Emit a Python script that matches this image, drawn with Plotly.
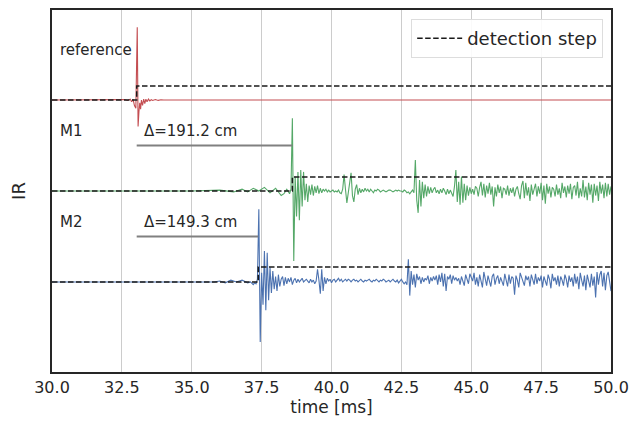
import plotly.graph_objects as go

# ---------------- data ----------------
# reference IR (red), irregular sample times [ms] and amplitudes
ref_t = [30.0, 32.4, 32.6, 32.7, 32.8, 32.85, 32.9, 32.95, 33.0, 33.05,
         33.08, 33.11, 33.14, 33.17, 33.2, 33.24, 33.28, 33.32, 33.36, 33.4,
         33.45, 33.5, 33.55, 33.6, 33.7, 33.8, 33.9, 34.0, 34.2, 34.4,
         34.6, 34.8, 35.0, 36.0, 50.0]
ref_v = [0, 0, 0.005, -0.005, 0.01, -0.02, 0.01, -0.06, -0.09, 0.80,
         -0.29, -0.13, -0.03, -0.10, 0.0, -0.06, 0.01, -0.04, 0.01, -0.02,
         0.01, -0.01, 0.005, -0.005, 0.005, -0.004, 0.003, 0.0, 0.002, -0.002,
         0.0, 0.0, 0, 0, 0]

# M1 (green): quiet part, then sampled part (start time, step)
m1_pre_t = [30.0, 33.0, 35.0, 36.0, 36.5, 36.8, 37.0, 37.2, 37.4, 37.6,
            37.8, 38.0, 38.2, 38.3, 38.4]
m1_pre_v = [0, 0.005, 0, 0.01, -0.01, 0.02, -0.01, 0.03, 0.0, 0.04,
            -0.02, 0.03, -0.05, -0.03, 0.02]
m1_start, m1_step = 38.50, 0.05
m1_v = [-0.03, 0.02, 0.80, -0.77, 0.16, -0.28, 0.21, -0.32, 0.23, -0.17,
        0.21, -0.10, 0.08, -0.12, 0.06, -0.04, 0.07, -0.05, 0.05, -0.02,
        0.06, -0.03, 0.03, -0.02, 0.02, 0.0, 0.02, -0.01, 0.01, -0.01,
        0.0, 0.01, -0.01, 0.0, -0.01, 0.01, -0.02, -0.03, 0.02, 0.18,
        0.02, -0.13, -0.02, 0.08, 0.20, -0.05, -0.12, 0.02, 0.07, -0.04,
        0.03, -0.02, 0.02, -0.01, 0.03, 0.0, 0.02, -0.01, 0.02, 0.0,
        -0.02, 0.01, 0.0, 0.02, 0.01, -0.01, 0.0, 0.01, 0.0, -0.01,
        0.0, 0.01, 0.01, 0.0, -0.01, 0.0, 0.01, 0.0, 0.01, 0.0,
        0.0, -0.01, 0.01, 0.0, -0.02, -0.01, -0.03, -0.01, 0.01, -0.02,
        0.34, -0.10, -0.24, 0.12, -0.17, 0.10, -0.08, 0.07, -0.06, 0.05,
        -0.03, 0.04, -0.02, 0.02, 0.04, -0.02, 0.01, -0.03, 0.02, -0.02,
        0.03, 0.0, -0.04, 0.02, -0.03, 0.01, -0.02, -0.06, 0.05, 0.23,
        -0.12, 0.10, -0.15, 0.16, -0.13, 0.08, -0.10, 0.06, -0.05, 0.04,
        -0.03, 0.02, -0.04, 0.05, 0.03, -0.06, 0.04, 0.10, -0.05, 0.08,
        -0.07, 0.06, -0.03, 0.09, -0.04, 0.05, -0.17, 0.04, -0.06, 0.07,
        -0.02, 0.05, -0.08, 0.03, 0.02, -0.04, 0.06, -0.05, 0.03, -0.02,
        0.04, -0.06, 0.02, 0.05, -0.03, -0.09, 0.06, 0.11, -0.08, 0.09,
        -0.05, 0.04, -0.11, 0.07, -0.04, 0.02, 0.08, -0.06, 0.05, -0.03,
        0.09, -0.10, 0.06, -0.14, 0.08, -0.03, 0.05, -0.07, 0.04, 0.02,
        -0.06, 0.07, -0.04, 0.03, -0.08, 0.09, -0.02, 0.05, -0.07, 0.06,
        -0.03, 0.08, -0.09, 0.04, 0.06, -0.05, 0.10, -0.08, 0.03, -0.06,
        0.12, -0.07, 0.05, -0.10, 0.09, -0.04, 0.07, -0.13, 0.08, -0.05,
        0.06, -0.11, 0.10, -0.03, 0.07, -0.08, 0.09, -0.06, 0.08, -0.04,
        0.05]

# M2 (blue)
m2_pre_t = [30.0, 34.0, 35.8, 36.0, 36.2, 36.4, 36.6, 36.8, 37.0, 37.1, 37.2, 37.25]
m2_pre_v = [0, 0, 0.0, 0.01, -0.01, 0.02, 0.0, 0.02, -0.01, 0.0, -0.03, -0.01]
m2_start, m2_step = 37.30, 0.05
m2_v = [-0.02, 0.03, 0.80, -0.66, 0.10, -0.25, 0.34, -0.31, 0.32, -0.20,
        0.16, -0.12, 0.12, -0.08, 0.06, -0.10, 0.08, -0.05, 0.03, 0.06,
        -0.04, 0.05, -0.02, 0.04, 0.0, 0.05, -0.03, 0.02, 0.04, -0.01,
        0.03, 0.0, 0.02, 0.04, 0.0, 0.02, 0.03, 0.01, -0.01, 0.03,
        0.00, 0.02, -0.02, 0.01, 0.14, 0.02, -0.13, 0.14, -0.10, 0.05,
        -0.02, 0.04, 0.01, 0.03, -0.01, 0.02, 0.03, 0.0, 0.02, 0.04,
        0.01, 0.03, 0.0, 0.02, 0.03, 0.01, 0.03, 0.02, 0.0, 0.02,
        0.03, 0.01, 0.02, 0.0, 0.02, 0.03, 0.01, 0.0, 0.02, 0.01,
        0.02, 0.03, 0.01, 0.0, 0.02, 0.01, 0.03, 0.01, 0.0, 0.02,
        0.01, 0.03, 0.02, 0.0, 0.01, 0.02, 0.0, 0.02, 0.03, 0.01,
        0.0, 0.02, -0.01, 0.01, 0.03, 0.0, -0.02, 0.0, -0.03, 0.25,
        -0.15, 0.12, -0.03, 0.08, -0.06, 0.09, 0.02, 0.06, -0.02, 0.05,
        0.0, 0.04, 0.02, 0.07, -0.02, 0.05, 0.01, 0.06, 0.02, 0.07,
        -0.03, 0.08, 0.0, 0.10, -0.05, 0.09, -0.10, 0.06, 0.03, 0.08,
        -0.02, 0.07, 0.02, 0.05, 0.01, 0.04, -0.03, 0.06, 0.02, -0.04,
        0.08, 0.03, -0.02, 0.09, 0.04, 0.01, 0.10, -0.03, 0.05, -0.05,
        0.08, 0.02, -0.06, 0.11, 0.04, -0.04, 0.07, 0.02, -0.05, 0.06,
        0.09, -0.03, 0.04, 0.07, -0.02, 0.05, 0.01, -0.04, 0.09, 0.03,
        -0.05, 0.08, -0.02, 0.06, 0.04, -0.14, 0.07, 0.02, -0.06, 0.10,
        0.05, 0.0, -0.04, 0.07, 0.02, 0.06, -0.05, 0.08, 0.03, -0.03,
        0.09, -0.02, 0.05, 0.01, 0.07, -0.06, 0.06, 0.02, -0.04, 0.08,
        0.03, -0.07, 0.09, 0.01, 0.05, -0.03, 0.07, -0.05, 0.06, 0.02,
        -0.04, 0.08, 0.03, -0.06, 0.07, 0.0, 0.05, -0.05, 0.09, -0.02,
        0.06, -0.08, 0.10, 0.02, -0.05, 0.07, -0.09, 0.08, 0.01, -0.06,
        0.09, -0.04, 0.06, -0.17, 0.11, -0.03, 0.08, 0.12, -0.05, 0.10,
        -0.09, 0.07, 0.11, -0.02, -0.10]

names = ["reference", "M1", "M2"]
offsets = [0.0, -1.0, -2.0]
step_times = [33.03, 38.60, 37.38]
step_heights = [0.154, 0.154, 0.165]
delta_labels = ["Δ=191.2 cm", "Δ=149.3 cm"]
x_range = [30.0, 50.0]
x_ticks = [30.0, 32.5, 35.0, 37.5, 40.0, 42.5, 45.0, 47.5, 50.0]
x_ticklabels = ["30.0", "32.5", "35.0", "37.5", "40.0", "42.5", "45.0", "47.5", "50.0"]
colors = ["#c44e52", "#55a868", "#4c72b0"]

# ---------------- figure ----------------
m1_t = m1_pre_t + [m1_start + i * m1_step for i in range(len(m1_v))]
m1_all = m1_pre_v + m1_v
m2_t = m2_pre_t + [m2_start + i * m2_step for i in range(len(m2_v))]
m2_all = m2_pre_v + m2_v
series_t = [ref_t, m1_t, m2_t]
series_v = [ref_v, m1_all, m2_all]

fig = go.Figure()
for k in range(3):
    fig.add_trace(go.Scatter(
        x=series_t[k], y=[v + offsets[k] for v in series_v[k]],
        mode="lines", line=dict(color=colors[k], width=1.1),
        showlegend=False, hoverinfo="skip"))

for k in range(3):
    o = offsets[k]
    fig.add_trace(go.Scatter(
        x=[x_range[0], step_times[k], step_times[k], x_range[1]],
        y=[o, o, o + step_heights[k], o + step_heights[k]],
        mode="lines", line=dict(color="#1a1a1a", width=1.5, dash="5.5px,2.5px"),
        name="detection step", showlegend=(k == 0), hoverinfo="skip"))

# delta bars
for k in (1, 2):
    o = offsets[k]
    fig.add_trace(go.Scatter(
        x=[step_times[0], step_times[k]], y=[o + 0.5, o + 0.5],
        mode="lines", line=dict(color="#808080", width=2.2),
        showlegend=False, hoverinfo="skip"))
    fig.add_annotation(x=step_times[0] + 0.2, y=o + 0.66, text=delta_labels[k - 1],
                       showarrow=False, xanchor="left", yanchor="middle",
                       font=dict(size=15, color="#262626"))

for k in range(3):
    fig.add_annotation(x=30.22, y=offsets[k] + (0.55 if k == 0 else 0.66),
                       text=names[k], showarrow=False, xanchor="left",
                       yanchor="middle", font=dict(size=15, color="#262626"))

fig.update_layout(
    width=633, height=428,
    margin=dict(l=52, r=22, t=10, b=56),
    plot_bgcolor="white", paper_bgcolor="white",
    font=dict(family="DejaVu Sans", color="#262626"),
    legend=dict(x=0.986, y=0.975, xanchor="right", yanchor="top",
                bgcolor="rgba(255,255,255,0.9)", bordercolor="#dddddd", borderwidth=1,
                font=dict(size=18, color="#262626"), itemwidth=45),
    xaxis=dict(range=x_range, tickvals=x_ticks, ticktext=x_ticklabels,
               showgrid=True, gridcolor="#cccccc", gridwidth=1, automargin=False,
               showline=True, mirror=True, linecolor="#262626", linewidth=1.8,
               ticks="", tickfont=dict(size=16), zeroline=False,
               title=dict(text="time [ms]", font=dict(size=17), standoff=2)),
    yaxis=dict(range=[-2.99, 0.99], showticklabels=False, showgrid=False, automargin=False,
               showline=True, mirror=True, linecolor="#262626", linewidth=1.8,
               ticks="", zeroline=False,
               title=dict(text="IR", font=dict(size=18), standoff=20)),
)

fig.write_html("out.html", config={"displayModeBar": False},
               post_script="document.body.style.margin='0';")
